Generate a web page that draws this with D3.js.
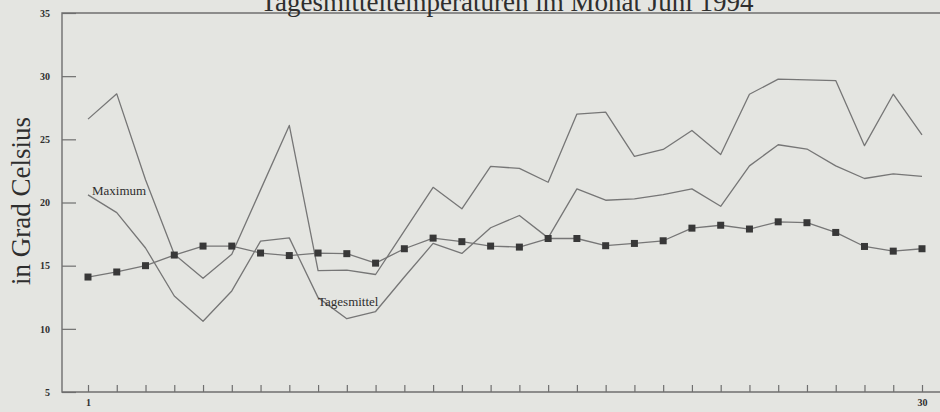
<!DOCTYPE html>
<html>
<head>
<meta charset="utf-8">
<script src="https://cdn.jsdelivr.net/npm/d3@7"></script>
<style>
  html, body { margin: 0; padding: 0; background: #e4e5e1; }
  svg { display: block; }
  text { font-family: "Liberation Serif", "DejaVu Serif", serif; fill: #2e2e2e; }
</style>
</head>
<body>
<svg id="chart" width="940" height="412"></svg>
<script>
/* =========================
   DATA
========================= */
const days = d3.range(1, 31);

// upper curve (line only)
const upperLine = [26.6, 28.6, 21.8, 15.9, 14.0, 15.9, 21.0, 26.1, 14.6, 14.65,
  14.3, 17.75, 21.2, 19.5, 22.86, 22.7, 21.6, 27.0, 27.15, 23.65,
  24.2, 25.7, 23.8, 28.57, 29.76, 29.7, 29.65, 24.5, 28.57, 25.36];

// lower curve (line only)
const lowerLine = [20.6, 19.2, 16.4, 12.6, 10.6, 13.0, 16.94, 17.2, 12.47, 10.8,
  11.37, 14.1, 16.76, 15.97, 18.0, 18.97, 17.2, 21.08, 20.18, 20.29,
  20.63, 21.08, 19.7, 22.9, 24.57, 24.23, 22.9, 21.9, 22.26, 22.07];

// curve with square markers
const squareLine = [14.1, 14.5, 15.0, 15.84, 16.55, 16.55, 16.0, 15.8, 16.0, 15.95,
  15.2, 16.34, 17.18, 16.9, 16.55, 16.47, 17.15, 17.15, 16.58, 16.76,
  16.97, 17.97, 18.2, 17.9, 18.47, 18.4, 17.63, 16.52, 16.15, 16.34];

const yTicks = [5, 10, 15, 20, 25, 30, 35];
const xTickLabels = [1, 30];

const title = "Tagesmitteltemperaturen im Monat Juni 1994";
const yTitle = "in Grad Celsius";

/* =========================
   SETUP
========================= */
const width = 940;
const height = 412;
const svg = d3.select("#chart");

svg.append("rect")
  .attr("width", width)
  .attr("height", height)
  .attr("fill", "#e4e5e1");

const x = d3.scaleLinear().domain([1, 30]).range([88, 922]);
const y = d3.scaleLinear().domain([5, 35]).range([392, 13]);

const axisColor = "#6f6f6f";
const lineColor = "#767676";

/* ===== AXES ===== */
const yAxis = svg.append("g")
  .attr("transform", "translate(62,0)")
  .call(d3.axisLeft(y).tickValues(yTicks).tickSize(-14).tickFormat(d3.format("d")));
yAxis.select(".domain").remove();
yAxis.selectAll(".tick line").attr("stroke", axisColor).attr("stroke-width", 1.2);
yAxis.selectAll(".tick text")
  .attr("x", -12)
  .style("font-family", '"Liberation Serif", serif')
  .style("font-size", "10px")
  .style("font-weight", "bold")
  .attr("fill", "#4a4a4a");

const xAxis = svg.append("g")
  .attr("transform", "translate(0,392)")
  .call(d3.axisBottom(x).tickValues(days).tickSize(-7)
    .tickFormat((d) => (xTickLabels.includes(d) ? d : "")));
xAxis.select(".domain").remove();
xAxis.selectAll(".tick line").attr("stroke", axisColor).attr("stroke-width", 1.2);
xAxis.selectAll(".tick text")
  .attr("y", 7)
  .style("font-family", '"Liberation Serif", serif')
  .style("font-size", "10px")
  .style("font-weight", "bold")
  .attr("fill", "#4a4a4a");

// frame lines: left, top, bottom
svg.append("path")
  .attr("d", `M${width},${y(35)}H62V${y(5)}H${width}`)
  .attr("fill", "none")
  .attr("stroke", axisColor)
  .attr("stroke-width", 1.4);

/* ===== LINES ===== */
const line = d3.line()
  .x((d, i) => x(days[i]))
  .y((d) => y(d));

[upperLine, lowerLine, squareLine].forEach((s) => {
  svg.append("path")
    .datum(s)
    .attr("d", line)
    .attr("fill", "none")
    .attr("stroke", lineColor)
    .attr("stroke-width", 1.3)
    .attr("stroke-linejoin", "round");
});

svg.selectAll(".sq")
  .data(squareLine)
  .enter()
  .append("rect")
  .attr("class", "sq")
  .attr("x", (d, i) => x(days[i]) - 3.5)
  .attr("y", (d) => y(d) - 3.5)
  .attr("width", 7)
  .attr("height", 7)
  .attr("fill", "#383838");

/* ===== LABELS ===== */
svg.append("text")
  .attr("x", 92)
  .attr("y", 195)
  .style("font-size", "13px")
  .text("Maximum");

svg.append("text")
  .attr("x", 318)
  .attr("y", 306)
  .style("font-size", "13px")
  .text("Tagesmittel");

svg.append("text")
  .attr("x", 507)
  .attr("y", 11)
  .attr("text-anchor", "middle")
  .style("font-size", "27px")
  .attr("fill", "#222")
  .text(title);

svg.append("text")
  .attr("transform", "translate(30,201) rotate(-90)")
  .attr("text-anchor", "middle")
  .style("font-size", "27px")
  .attr("fill", "#333")
  .text(yTitle);
</script>
</body>
</html>
